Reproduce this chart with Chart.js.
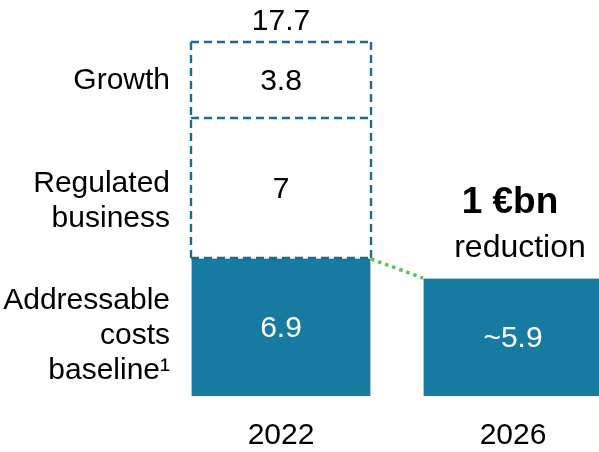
<!DOCTYPE html>
<html>
<head>
<meta charset="utf-8">
<script src="https://cdn.jsdelivr.net/npm/chart.js@4/dist/chart.umd.min.js"></script>
<style>
  html, body { margin: 0; padding: 0; background: #fff; overflow: hidden; }
  #wrap { width: 629px; height: 476px; position: relative; }
</style>
</head>
<body>
<div id="wrap"><canvas id="chart"></canvas></div>
<script>
/* ── Data ─────────────────────────────────────────────── */
const years       = ['2022', '2026'];
const addressable = [6.9, 5.9];
const regulated   = [7, null];
const growth      = [3.8, null];

const addressableLabels = ['6.9', '~5.9'];
const regulatedLabels   = ['7', ''];
const growthLabels      = ['3.8', ''];
const totalLabels       = ['17.7', ''];

const segmentNames = [
  ['Addressable', 'costs', 'baseline\u00b9'],
  ['Regulated', 'business'],
  ['Growth'],
];
const calloutText = ['1 \u20acbn', 'reduction'];

/* ── Style ────────────────────────────────────────────── */
const TEAL   = '#177aa1';
const EDGE   = '#a8cbdb';
const DASH   = '#1b6d8d';
const DOTS   = '#5cbf5c';
const FONT   = '"Liberation Sans", Arial, sans-serif';
const NUDGE  = [9, 13, 1];   // small vertical shifts of the side labels

/* draws dashed boxes, connector, values and side labels */
const overlay = {
  id: 'overlay',
  afterDatasetsDraw(chart) {
    const ctx = chart.ctx;
    const m0 = chart.getDatasetMeta(0).data;
    const m1 = chart.getDatasetMeta(1).data;
    const m2 = chart.getDatasetMeta(2).data;

    ctx.save();
    // dashed outlines for the white segments (shared edge drawn once)
    ctx.strokeStyle = DASH;
    ctx.lineWidth = 2.4;
    ctx.setLineDash([8, 5]);
    const r = m1[0], g = m2[0];
    const l = r.x - r.width / 2, rt = r.x + r.width / 2;
    ctx.beginPath();
    ctx.moveTo(l, r.base); ctx.lineTo(l, g.y);
    ctx.moveTo(rt, r.base); ctx.lineTo(rt, g.y);
    ctx.moveTo(l, g.y); ctx.lineTo(rt, g.y);
    ctx.moveTo(l, r.y); ctx.lineTo(rt, r.y);
    ctx.moveTo(l, r.base); ctx.lineTo(rt, r.base);
    ctx.stroke();

    // green dotted connector
    const a = m0[0], c = m0[1];
    ctx.strokeStyle = DOTS;
    ctx.lineWidth = 3.5;
    ctx.setLineDash([3.5, 4]);
    ctx.beginPath();
    ctx.moveTo(a.x + a.width / 2, a.y + 1);
    ctx.lineTo(c.x - c.width / 2, c.y);
    ctx.stroke();
    ctx.setLineDash([]);

    // values inside segments
    ctx.font = '30px ' + FONT;
    ctx.textAlign = 'center';
    ctx.textBaseline = 'middle';
    const put = (meta, labels, color) => {
      ctx.fillStyle = color;
      meta.forEach((b, i) => {
        if (labels[i]) ctx.fillText(labels[i], b.x, (b.y + b.base) / 2 + 2);
      });
    };
    put(m0, addressableLabels, '#fff');
    put(m1, regulatedLabels, '#000');
    put(m2, growthLabels, '#000');

    // total above
    ctx.fillStyle = '#000';
    m2.forEach((b, i) => { if (totalLabels[i]) ctx.fillText(totalLabels[i], b.x, b.y - 20); });

    // side labels
    ctx.textAlign = 'right';
    [m0, m1, m2].forEach((meta, k) => {
      const b = meta[0];
      const mid = (b.y + b.base) / 2 + NUDGE[k];
      const lines = segmentNames[k];
      lines.forEach((t, j) => {
        ctx.fillText(t, 170, mid + (j - (lines.length - 1) / 2) * 35);
      });
    });

    // callout above 2026
    ctx.textAlign = 'center';
    ctx.textBaseline = 'alphabetic';
    ctx.font = 'bold 37px ' + FONT;
    ctx.fillText(calloutText[0], c.x - 3, c.y - 65);
    ctx.font = '32px ' + FONT;
    ctx.fillText(calloutText[1], c.x + 7, c.y - 21);
    ctx.restore();
  }
};

new Chart(document.getElementById('chart'), {
  type: 'bar',
  data: {
    labels: years,
    datasets: [
      { label: 'Addressable costs baseline', data: addressable, backgroundColor: TEAL, borderColor: EDGE, borderWidth: 1 },
      { label: 'Regulated business', data: regulated, backgroundColor: '#fff', borderWidth: 0 },
      { label: 'Growth', data: growth, backgroundColor: '#fff', borderWidth: 0 },
    ],
  },
  options: {
    responsive: true, maintainAspectRatio: false,
    animation: false,
    layout: { padding: { left: 165, right: 0, top: 0, bottom: 0 } },
    datasets: { bar: { categoryPercentage: 1, barPercentage: 0.776 } },
    plugins: { legend: { display: false }, tooltip: { enabled: false } },
    scales: {
      x: {
        stacked: true,
        grid: { display: false, drawTicks: false },
        border: { display: false },
        ticks: { color: '#000', font: { family: FONT, size: 30 }, padding: 22 },
      },
      y: { stacked: true, display: false, min: 0, max: 19.8 },
    },
  },
  plugins: [overlay],
});
</script>
</body>
</html>
